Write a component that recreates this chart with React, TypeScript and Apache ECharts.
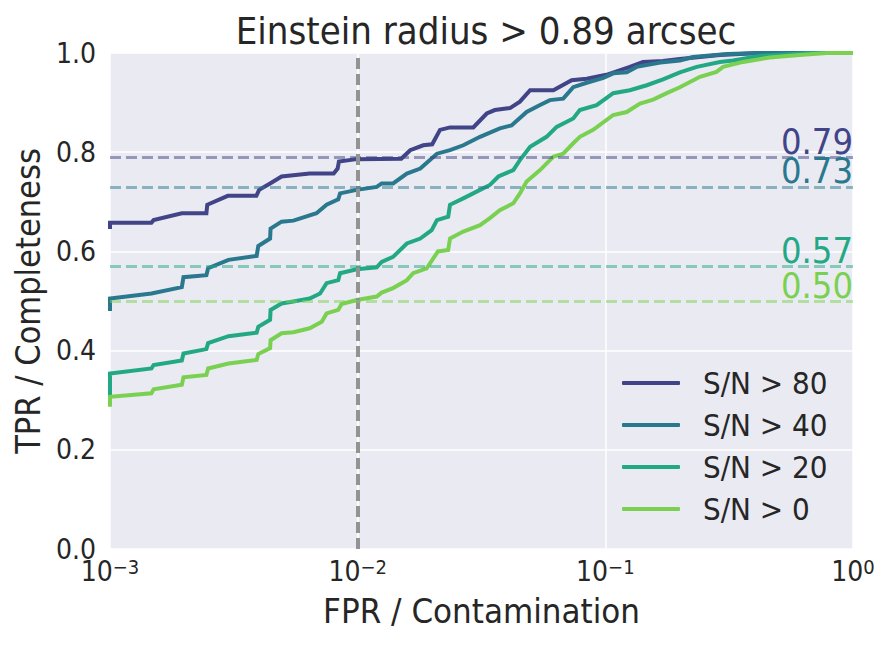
import React, { useEffect, useRef } from "react";
import * as echarts from "echarts";

const seriesNames = ["S/N > 80", "S/N > 40", "S/N > 20", "S/N > 0"];
const seriesColors = ["#414487", "#2A788E", "#22A884", "#7AD151"];
const thresholdLineColors = ["rgba(65,68,135,0.5)", "rgba(42,120,142,0.5)", "rgba(34,168,132,0.5)", "rgba(122,209,81,0.5)"];

// [FPR, TPR] points of each ROC curve
const snr80: number[][] = [
  [0.001, 0.645], [0.001, 0.658], [0.00147, 0.658], [0.0015, 0.663], [0.00195, 0.677], [0.00245, 0.677],
  [0.00247, 0.694], [0.00299, 0.712], [0.0039, 0.712], [0.004, 0.724], [0.00443, 0.737], [0.00493, 0.751],
  [0.0064, 0.757], [0.008, 0.757], [0.0083, 0.767], [0.0084, 0.781], [0.0099, 0.786], [0.015, 0.787],
  [0.0163, 0.804], [0.0184, 0.814], [0.02, 0.816], [0.0215, 0.845], [0.0236, 0.85], [0.0293, 0.85],
  [0.0332, 0.878], [0.0358, 0.885], [0.0412, 0.889], [0.0452, 0.902], [0.0497, 0.925], [0.0617, 0.925],
  [0.0731, 0.945], [0.0841, 0.948], [0.101, 0.956], [0.1256, 0.972], [0.142, 0.982], [0.171, 0.984],
  [0.2, 0.988], [0.29, 0.996], [0.42, 1.0], [1, 1.0],
];
const snr40: number[][] = [
  [0.001, 0.48], [0.001, 0.505], [0.00147, 0.515], [0.00195, 0.528], [0.00198, 0.548], [0.00245, 0.552],
  [0.00249, 0.566], [0.00301, 0.583], [0.00391, 0.591], [0.00397, 0.611], [0.00443, 0.626], [0.00445, 0.646],
  [0.00493, 0.66], [0.0055, 0.662], [0.00682, 0.677], [0.00749, 0.694], [0.00835, 0.705], [0.00849, 0.717],
  [0.00991, 0.724], [0.01194, 0.73], [0.0125, 0.737], [0.0139, 0.737], [0.0158, 0.757], [0.0179, 0.767],
  [0.0209, 0.797], [0.0236, 0.804], [0.0267, 0.814], [0.0312, 0.831], [0.0375, 0.848], [0.0418, 0.854],
  [0.0481, 0.881], [0.0545, 0.895], [0.0597, 0.905], [0.0676, 0.908], [0.0742, 0.931], [0.0841, 0.94],
  [0.0982, 0.95], [0.1076, 0.959], [0.122, 0.961], [0.1337, 0.972], [0.1667, 0.981], [0.2, 0.985],
  [0.226, 0.992], [0.31, 0.998], [0.42, 1.0], [1, 1.0],
];
const snr20: number[][] = [
  [0.001, 0.3], [0.001, 0.354], [0.00147, 0.364], [0.0015, 0.371], [0.00195, 0.38], [0.00198, 0.394],
  [0.00245, 0.403], [0.00249, 0.415], [0.00301, 0.429], [0.00391, 0.436], [0.00397, 0.448], [0.00443, 0.462],
  [0.00445, 0.482], [0.00493, 0.495], [0.0055, 0.499], [0.0064, 0.505], [0.00705, 0.515], [0.00749, 0.536],
  [0.00835, 0.542], [0.00849, 0.556], [0.00991, 0.564], [0.01194, 0.568], [0.0125, 0.579], [0.0139, 0.589],
  [0.0158, 0.616], [0.0179, 0.626], [0.0199, 0.643], [0.0209, 0.663], [0.0232, 0.67], [0.0236, 0.694],
  [0.0267, 0.707], [0.0312, 0.724], [0.0342, 0.734], [0.037, 0.751], [0.0425, 0.764], [0.0452, 0.784],
  [0.0497, 0.811], [0.0579, 0.831], [0.0636, 0.851], [0.0742, 0.868], [0.0789, 0.885], [0.0922, 0.895],
  [0.1076, 0.919], [0.1256, 0.925], [0.147, 0.935], [0.171, 0.947], [0.2, 0.961], [0.234, 0.972],
  [0.29, 0.982], [0.328, 0.985], [0.42, 0.994], [0.571, 0.998], [0.67, 1.0], [1, 1.0],
];
const snr0: number[][] = [
  [0.001, 0.287], [0.001, 0.307], [0.00147, 0.314], [0.0015, 0.322], [0.00195, 0.331], [0.00198, 0.346],
  [0.00245, 0.351], [0.00249, 0.364], [0.00301, 0.374], [0.00391, 0.381], [0.00397, 0.393], [0.00443, 0.405],
  [0.00445, 0.421], [0.00493, 0.435], [0.0055, 0.437], [0.0064, 0.445], [0.00716, 0.458], [0.00749, 0.475],
  [0.00835, 0.482], [0.00861, 0.494], [0.00991, 0.502], [0.01194, 0.509], [0.0125, 0.517], [0.0139, 0.526],
  [0.0158, 0.542], [0.01675, 0.556], [0.019, 0.566], [0.0202, 0.586], [0.0211, 0.6], [0.0232, 0.603],
  [0.0236, 0.626], [0.0267, 0.64], [0.0312, 0.653], [0.0342, 0.667], [0.0375, 0.683], [0.0425, 0.697],
  [0.0452, 0.717], [0.0481, 0.741], [0.0545, 0.764], [0.0617, 0.791], [0.0676, 0.797], [0.0742, 0.818],
  [0.0789, 0.831], [0.0893, 0.845], [0.1076, 0.875], [0.122, 0.881], [0.138, 0.898], [0.156, 0.906],
  [0.177, 0.919], [0.2, 0.931], [0.241, 0.952], [0.281, 0.962], [0.299, 0.972], [0.36, 0.982],
  [0.461, 0.991], [0.61, 0.996], [0.782, 1.0], [1, 1.0],
];
const curves = [snr80, snr40, snr20, snr0];

// TPR at FPR = 1e-2 for each curve
const thresholdFpr = 0.01;
const thresholdTpr = [0.786, 0.726, 0.566, 0.503];

const xTicks = [0.001, 0.01, 0.1, 1];
const yTicks = [0, 0.2, 0.4, 0.6, 0.8, 1.0];

const TEXT = "#262626";
const FONT = "'DejaVu Sans Condensed', 'DejaVu Sans'";

export default function App() {
  const ref = useRef<HTMLDivElement>(null);
  useEffect(() => {
    if (!ref.current) return;
    const chart = echarts.init(ref.current, undefined, { renderer: "svg" });
    const series: any[] = curves.map((data, i) => {
      const mlData: any[] = [
        {
          yAxis: thresholdTpr[i],
          lineStyle: { color: thresholdLineColors[i], type: [11, 5], width: 3 },
          label: {
            show: true,
            position: "insideEndTop",
            formatter: thresholdTpr[i].toFixed(2),
            color: seriesColors[i],
            fontSize: 36,
            fontFamily: FONT,
            distance: [0, -2],
          },
        },
      ];
      if (i === 0) {
        mlData.push({
          xAxis: thresholdFpr,
          lineStyle: { color: "#939393", type: [11, 5], width: 4 },
          label: { show: false },
        });
      }
      return {
        name: seriesNames[i],
        type: "line",
        data,
        showSymbol: false,
        symbol: "none",
        color: seriesColors[i],
        lineStyle: { width: 4, color: seriesColors[i], join: "miter" },
        z: 3,
        clip: true,
        markLine: { symbol: "none", silent: true, animation: false, data: mlData },
      };
    });
    chart.setOption({
      animation: false,
      textStyle: { fontFamily: FONT, color: TEXT },
      title: {
        text: "Einstein radius > 0.89 arcsec",
        left: 481,
        top: 7,
        textAlign: "center",
        textStyle: { fontSize: 38, fontWeight: "normal", color: TEXT, fontFamily: FONT },
      },
      grid: {
        left: 110,
        right: 42,
        top: 53,
        bottom: 97,
        show: true,
        backgroundColor: "#EAEAF2",
        borderWidth: 0,
      },
      legend: {
        data: seriesNames,
        orient: "vertical",
        left: 617,
        top: 362,
        icon: "roundRect",
        itemWidth: 58,
        itemHeight: 4,
        itemGap: 10,
        textStyle: { fontSize: 31, color: TEXT, fontFamily: FONT, padding: [0, 0, 0, 18], lineHeight: 32 },
      },
      xAxis: {
        type: "log",
        logBase: 10,
        min: xTicks[0],
        max: xTicks[xTicks.length - 1],
        name: "FPR / Contamination",
        nameLocation: "middle",
        nameGap: 40,
        nameTextStyle: { fontSize: 34.5, color: TEXT, fontFamily: FONT },
        axisLine: { show: false },
        axisTick: { show: false },
        splitLine: { show: true, lineStyle: { color: "#FFFFFF", width: 1.5 } },
        minorTick: { show: false },
        minorSplitLine: { show: false },
        axisLabel: {
          margin: 8,
          color: TEXT,
          formatter: (v: number) => {
            const e = Math.round(Math.log10(v));
            return `{b|10}{s|${e < 0 ? "\u2212" : ""}${Math.abs(e)}}`;
          },
          rich: {
            b: { fontSize: 28, lineHeight: 28, padding: [4, 0, 0, 0], verticalAlign: "bottom", color: TEXT, fontFamily: FONT },
            s: { fontSize: 20, lineHeight: 20, padding: [0, 0, 12, 0], verticalAlign: "top", color: TEXT, fontFamily: FONT },
          },
        },
      },
      yAxis: {
        type: "value",
        min: yTicks[0],
        max: yTicks[yTicks.length - 1],
        interval: 0.2,
        name: "TPR / Completeness",
        nameLocation: "middle",
        nameGap: 50,
        nameTextStyle: { fontSize: 34, color: TEXT, fontFamily: FONT },
        axisLine: { show: false },
        axisTick: { show: false },
        splitLine: { show: true, lineStyle: { color: "#FFFFFF", width: 1.5 } },
        axisLabel: {
          margin: 14,
          fontSize: 28,
          color: TEXT,
          formatter: (v: number) => v.toFixed(1),
        },
      },
      series,
    });
    return () => chart.dispose();
  }, []);
  return <div ref={ref} style={{ width: 895, height: 646, position: "absolute", left: 0, top: 0 }} />;
}
